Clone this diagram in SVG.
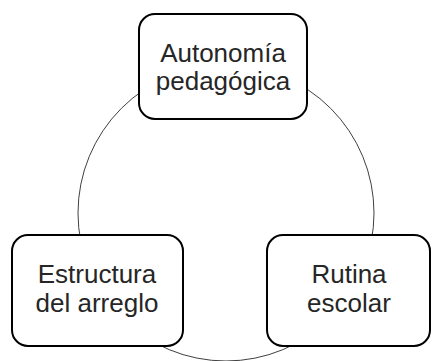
<svg xmlns="http://www.w3.org/2000/svg" width="432" height="361" viewBox="0 0 432 361">
<style>
.box{fill:#fff;stroke:#000;stroke-width:2}
.t{font-family:"Liberation Sans",Arial,sans-serif;font-size:26px;fill:#262626;text-anchor:middle}
.c{fill:none;stroke:#404040;stroke-width:1}
</style>
<rect width="432" height="361" fill="#fff"/>
<g id="connectors">
<circle class="c" cx="226" cy="213" r="148"/>
</g>
<g id="autonomia">
<rect class="box" x="139" y="14" width="168" height="105" rx="16"/>
<text class="t" x="223" y="62">Autonomía</text>
<text class="t" x="223" y="90">pedagógica</text>
</g>
<g id="estructura">
<rect class="box" x="12" y="235" width="171" height="111" rx="16"/>
<text class="t" x="97" y="283">Estructura</text>
<text class="t" x="97" y="312">del arreglo</text>
</g>
<g id="rutina">
<rect class="box" x="267" y="235" width="163" height="111" rx="16"/>
<text class="t" x="349" y="283">Rutina</text>
<text class="t" x="349" y="312">escolar</text>
</g>
</svg>
